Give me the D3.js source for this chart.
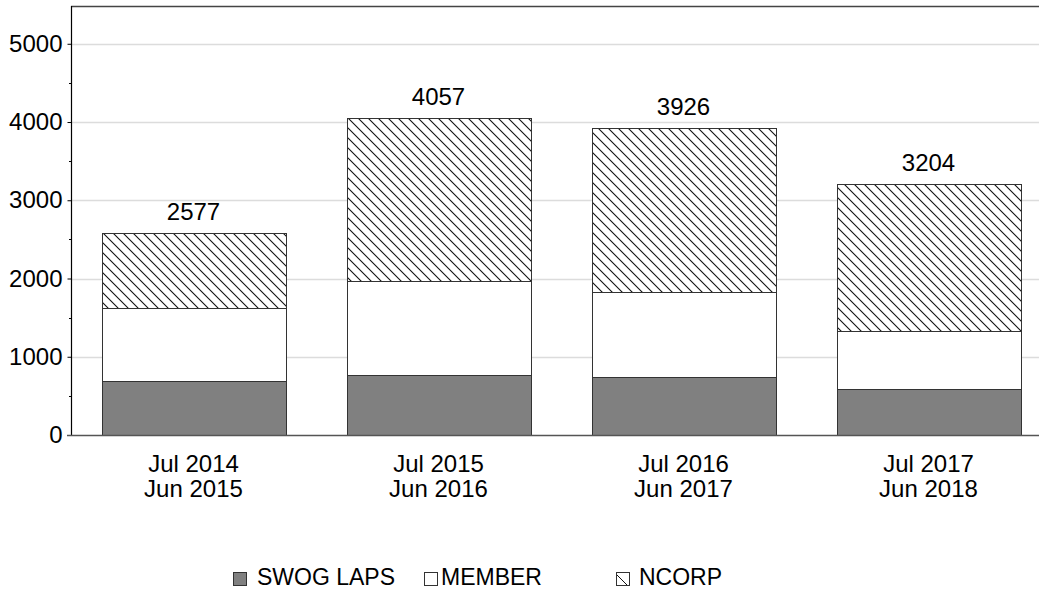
<!DOCTYPE html>
<html>
<head>
<meta charset="utf-8">
<script src="https://cdn.jsdelivr.net/npm/d3@7"></script>
<style>
  html, body { margin: 0; padding: 0; background: #fff; }
  svg { display: block; }
  text { font-family: "Liberation Sans", Arial, sans-serif; fill: #000; }
</style>
</head>
<body>
<svg id="chart" width="1039" height="591"></svg>
<script>
const periodStart = ["Jul 2014", "Jul 2015", "Jul 2016", "Jul 2017"];
const periodEnd   = ["Jun 2015", "Jun 2016", "Jun 2017", "Jun 2018"];
const swogLaps = [690, 762, 741, 591];
const member   = [932, 1201, 1089, 737];
const ncorp    = [955, 2094, 2096, 1876];
const seriesNames = ["SWOG LAPS", "MEMBER", "NCORP"];
const yTicks = [0, 1000, 2000, 3000, 4000, 5000];
const yMinorTicks = [500, 1500, 2500, 3500, 4500];

const svg = d3.select("#chart");
const W = 1039;

const defs = svg.append("defs");
const pat = defs.append("pattern")
  .attr("id", "hatch").attr("patternUnits", "userSpaceOnUse")
  .attr("width", 10).attr("height", 10);
pat.append("rect").attr("width", 10).attr("height", 10).attr("fill", "#fff");
pat.append("path")
  .attr("d", "M0,0 L10,10 M-1,9 L1,11 M9,-1 L11,1")
  .attr("stroke", "#111").attr("stroke-width", 1.1);

const pat2 = defs.append("pattern")
  .attr("id", "hatchSmall").attr("patternUnits", "userSpaceOnUse")
  .attr("width", 14).attr("height", 14);
pat2.append("rect").attr("width", 14).attr("height", 14).attr("fill", "#fff");
pat2.append("path").attr("d", "M0,0 L14,14").attr("stroke", "#111").attr("stroke-width", 1);

const rows = periodStart.map((p, i) => ({
  key: p, "SWOG LAPS": swogLaps[i], "MEMBER": member[i], "NCORP": ncorp[i]
}));
const stacked = d3.stack().keys(seriesNames)(rows);

const x = d3.scaleBand().domain(periodStart).range([71, 1051])
  .paddingInner(0.25).paddingOuter(0.125);
const y = d3.scaleLinear().domain([0, 5470]).range([435, 7]);

const fills = { "SWOG LAPS": "#808080", "MEMBER": "#ffffff", "NCORP": "url(#hatch)" };

// grid
svg.append("g").selectAll("line").data(yTicks.slice(1)).join("line")
  .attr("x1", 71).attr("x2", W)
  .attr("y1", d => Math.round(y(d)) + 0.5).attr("y2", d => Math.round(y(d)) + 0.5)
  .attr("stroke", "#dcdcdc").attr("stroke-width", 1.3);

// top frame line
svg.append("line").attr("x1", 71).attr("x2", W).attr("y1", 6.5).attr("y2", 6.5)
  .attr("stroke", "#444").attr("stroke-width", 1.5);

// bars
svg.append("g").selectAll("g").data(stacked).join("g")
  .attr("fill", d => fills[d.key])
  .selectAll("rect").data(d => d).join("rect")
  .attr("x", d => Math.round(x(d.data.key)) + 0.5)
  .attr("width", Math.round(x.bandwidth()))
  .attr("y", d => Math.round(y(d[1])) + 0.5)
  .attr("height", d => Math.round(y(d[0])) - Math.round(y(d[1])))
  .attr("stroke", "#333").attr("stroke-width", 1);

// y axis
const yAxis = d3.axisLeft(y).tickValues(yTicks).tickSize(4).tickPadding(5)
  .tickFormat(d3.format("d"));
const gy = svg.append("g").attr("transform", "translate(71.5,0)").call(yAxis);
gy.select(".domain").remove();
gy.selectAll(".tick line").attr("stroke", "#000");
gy.selectAll(".tick text").style("font-size", "24px")
  .style("font-family", "'Liberation Sans', Arial, sans-serif").attr("fill", "#000");
svg.append("line").attr("x1", 71.5).attr("x2", 71.5).attr("y1", 6).attr("y2", 435)
  .attr("stroke", "#000").attr("stroke-width", 1.2);
svg.append("g").selectAll("line").data(yMinorTicks).join("line")
  .attr("x1", 69).attr("x2", 71)
  .attr("y1", d => Math.round(y(d)) + 0.5).attr("y2", d => Math.round(y(d)) + 0.5)
  .attr("stroke", "#000");

// baseline
svg.append("line").attr("x1", 67).attr("x2", W).attr("y1", 435.5).attr("y2", 435.5)
  .attr("stroke", "#555").attr("stroke-width", 1.5);

// x labels
const xl = svg.append("g").selectAll("text").data(periodStart).join("text")
  .attr("x", d => x(d) + x.bandwidth() / 2)
  .attr("text-anchor", "middle").style("font-size", "24px");
xl.append("tspan").attr("x", d => x(d) + x.bandwidth() / 2).attr("y", 472).text(d => d);
xl.append("tspan").attr("x", d => x(d) + x.bandwidth() / 2).attr("y", 497)
  .text((d, i) => periodEnd[i]);

// totals
svg.append("g").selectAll("text").data(rows).join("text")
  .attr("x", d => x(d.key) + x.bandwidth() / 2)
  .attr("y", d => y(d["SWOG LAPS"] + d["MEMBER"] + d["NCORP"]) - 13)
  .attr("text-anchor", "middle").style("font-size", "24px")
  .text(d => d["SWOG LAPS"] + d["MEMBER"] + d["NCORP"]);

// legend
const legendPos = [{ sx: 233, tx: 257 }, { sx: 424, tx: 441 }, { sx: 616, tx: 639 }];
const legendFill = { "SWOG LAPS": "#808080", "MEMBER": "#fff", "NCORP": "url(#hatchSmall)" };
const lg = svg.append("g").selectAll("g").data(seriesNames).join("g");
lg.append("rect")
  .attr("x", (d, i) => legendPos[i].sx + 0.5).attr("y", 572.5)
  .attr("width", 13).attr("height", 13)
  .attr("fill", d => legendFill[d]).attr("stroke", "#333");
lg.append("text")
  .attr("x", (d, i) => legendPos[i].tx).attr("y", 585)
  .style("font-size", "23px").text(d => d);
</script>
</body>
</html>
